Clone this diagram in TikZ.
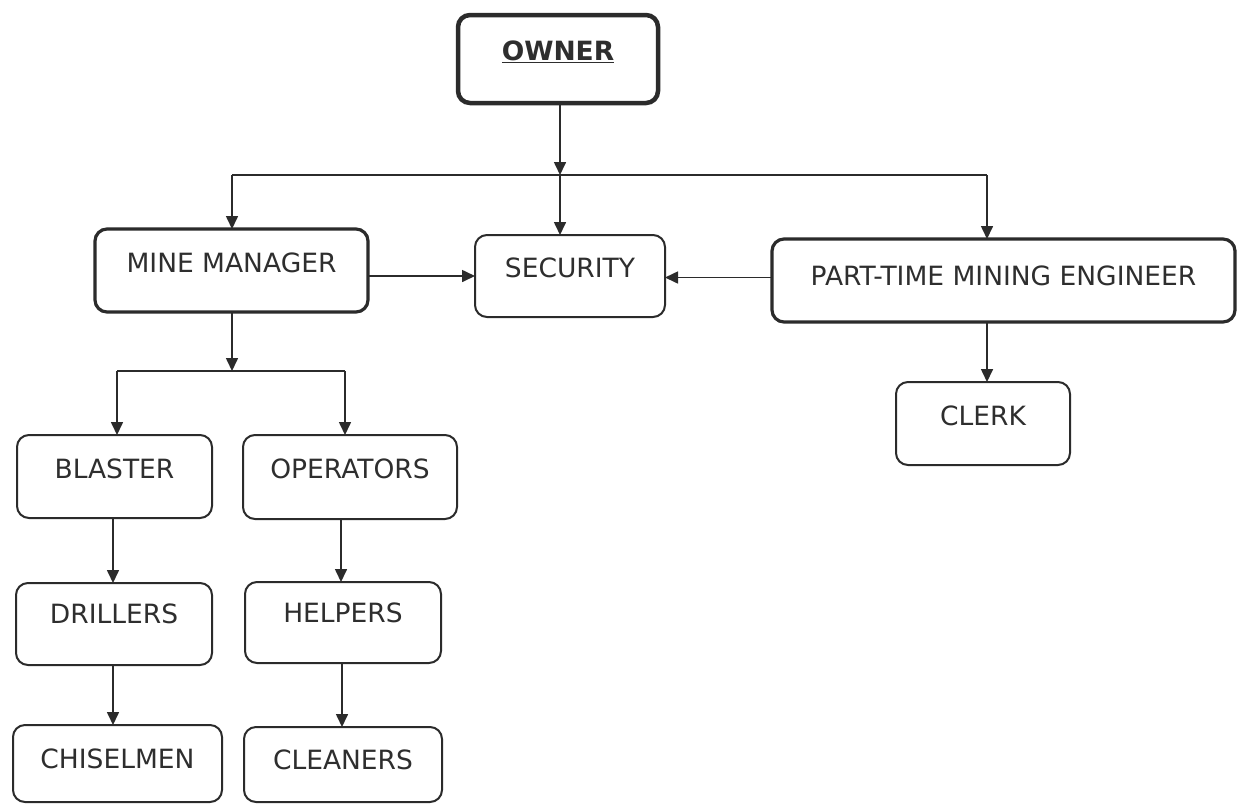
\documentclass[tikz,border=0pt]{standalone}
\usepackage{fontspec}
\setmainfont{DejaVu Sans}
\usetikzlibrary{arrows.meta}
\definecolor{ink}{HTML}{2B2B2B}
\definecolor{txt}{HTML}{2E2E2E}
\begin{document}
\begin{tikzpicture}[x=1pt,y=-1pt,
  boxbase/.style={draw=ink, rounded corners=12pt, inner sep=0pt, outer sep=0pt, fill=white},
  thinbox/.style={boxbase, line width=2pt},
  thickbox/.style={boxbase, line width=3.2pt},
  heavybox/.style={boxbase, line width=4.5pt},
  lbl/.style={anchor=base, text=txt, font=\fontsize{26.5}{30}\selectfont, inner sep=0pt},
  arr/.style={draw=ink, line width=1.6pt, -{Triangle[length=13pt,width=12pt]}},
  ln/.style={draw=ink, line width=1.6pt}]
\useasboundingbox (0,0) rectangle (1238,804);
\fill[white] (0,0) rectangle (1238,804);

% boxes
\node[heavybox, minimum width=200pt, minimum height=88pt] (own) at (558,59) {};
\node[thickbox, minimum width=273pt, minimum height=83pt] (mm) at (231.5,270.5) {};
\node[thinbox, minimum width=190pt, minimum height=82pt] (sec) at (570,276) {};
\node[thickbox, minimum width=463pt, minimum height=83pt] (pt) at (1003.5,280.5) {};
\node[thinbox, minimum width=174pt, minimum height=83pt] (clk) at (983,423.5) {};
\node[thinbox, minimum width=195pt, minimum height=83pt] (bl) at (114.5,476.5) {};
\node[thinbox, minimum width=214pt, minimum height=84pt] (op) at (350,477) {};
\node[thinbox, minimum width=196pt, minimum height=82pt] (dr) at (114,624) {};
\node[thinbox, minimum width=196pt, minimum height=81pt] (hp) at (343,622.5) {};
\node[thinbox, minimum width=209pt, minimum height=77pt] (ch) at (117.5,763.5) {};
\node[thinbox, minimum width=198pt, minimum height=75pt] (cl) at (343,764.5) {};

% labels
\node[lbl] (towner) at ([yshift=-45pt]own.north) {\bfseries\underline{OWNER}};
\node[lbl] (tmm) at ([yshift=-43pt]mm.north) {MINE MANAGER};
\node[lbl] (tsec) at ([yshift=-42pt]sec.north) {SECURITY};
\node[lbl] (tpt) at ([yshift=-46pt]pt.north) {PART-TIME MINING ENGINEER};
\node[lbl] (tclk) at ([yshift=-43pt]clk.north) {CLERK};
\node[lbl] (tbl) at ([yshift=-43pt]bl.north) {BLASTER};
\node[lbl] (top) at ([yshift=-43pt]op.north) {OPERATORS};
\node[lbl] (tdr) at ([yshift=-40pt]dr.north) {DRILLERS};
\node[lbl] (thp) at ([yshift=-40pt]hp.north) {HELPERS};
\node[lbl] (tch) at ([yshift=-43pt]ch.north) {CHISELMEN};
\node[lbl] (tcl) at ([yshift=-42pt]cl.north) {CLEANERS};

% junction coordinates
\coordinate (jtop) at (560,175);
\coordinate (jtl) at (232,175);
\coordinate (jtr) at (987,175);
\coordinate (jmm) at (232,371);
\coordinate (jml) at (117,371);
\coordinate (jmr) at (345,371);

% connectors
\draw[arr] (jtop |- own.south) -- (jtop);
\draw[ln] (jtl) -- (jtr);
\draw[arr] (jtl) -- (jtl |- mm.north);
\draw[arr] (jtop) -- (jtop |- sec.north);
\draw[arr] (jtr) -- (jtr |- pt.north);
\draw[arr] (mm.east |- sec.west) -- (sec.west);
\draw[arr] ([yshift=-1.5pt]pt.west |- sec.east) -- ([yshift=-1.5pt]sec.east);
\draw[arr] (jmm |- mm.south) -- (jmm);
\draw[ln] (jml) -- (jmr);
\draw[arr] (jml) -- (jml |- bl.north);
\draw[arr] (jmr) -- (jmr |- op.north);
\draw[arr] (jtr |- pt.south) -- (jtr |- clk.north);
\draw[arr] (113,0 |- bl.south) -- (113,0 |- dr.north);
\draw[arr] (113,0 |- dr.south) -- (113,0 |- ch.north);
\draw[arr] (341,0 |- op.south) -- (341,0 |- hp.north);
\draw[arr] (342,0 |- hp.south) -- (342,0 |- cl.north);
\end{tikzpicture}
\end{document}
